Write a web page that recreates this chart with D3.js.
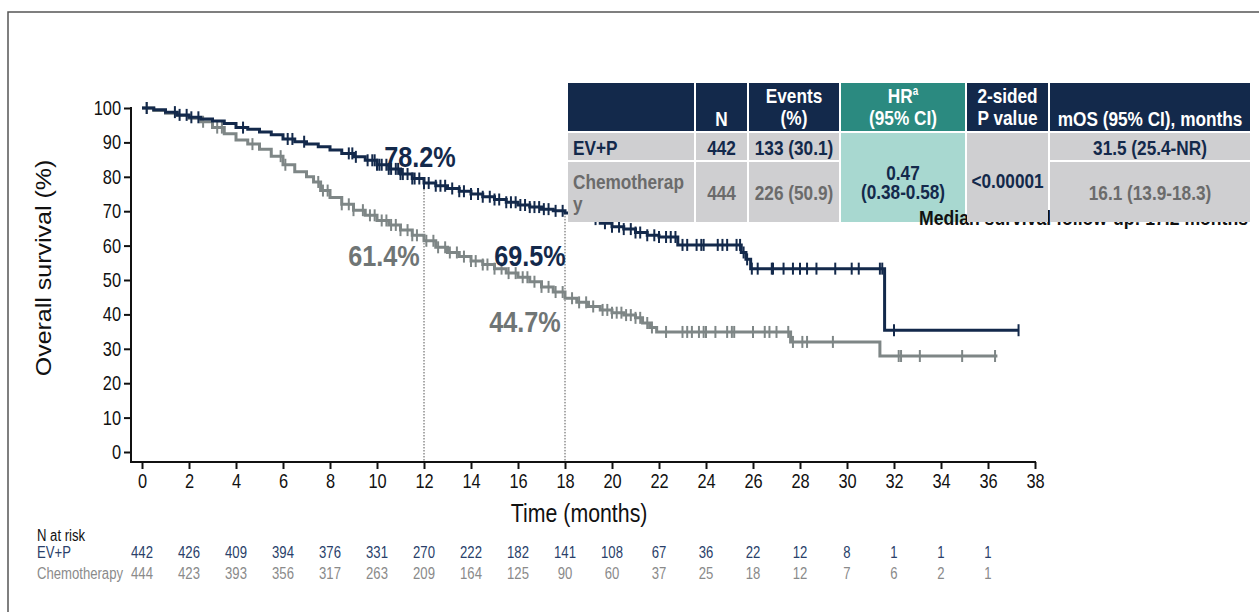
<!DOCTYPE html>
<html>
<head>
<meta charset="utf-8">
<script src="https://cdn.jsdelivr.net/npm/d3@7/dist/d3.min.js"></script>
<style>
body { margin: 0; background: #fff; }
svg { display: block; }
</style>
</head>
<body>
<svg id="chart"></svg>
<script>
/////////////////////////////////////////////////
/////////////////// Data ////////////////////////
/////////////////////////////////////////////////

var evpTime = [0, 0.5, 1, 1.5, 2, 2.5, 3, 3.5, 4, 4.5, 5, 5.5, 6, 6.5, 7, 7.5, 8, 8.5, 9, 9.5, 10, 10.5, 11, 11.5, 12, 12.5, 13, 13.5, 14, 14.5, 15, 15.5, 16, 16.5, 17, 17.5, 18, 18.5, 19, 19.5, 20, 20.5, 21, 21.5, 22, 22.8, 25.5, 25.7, 25.9, 31.6, 37.3];
var evpSurv = [100, 99.5, 98.8, 98, 97.3, 96.8, 96.2, 95.5, 94.3, 93.8, 93, 92.2, 91, 90.2, 89.5, 88.7, 87.8, 86.8, 85.8, 84.8, 83.5, 82.3, 80.8, 79.5, 78.2, 77.4, 76.6, 75.8, 75, 74.2, 73.4, 72.6, 71.8, 71.2, 70.6, 70.1, 69.5, 68.6, 67.7, 66.5, 65.5, 64.8, 63.8, 63, 62.5, 60.2, 58, 56, 53.3, 35.4, 35.4];

var chemoTime = [0, 0.5, 1, 1.5, 2, 2.5, 3, 3.5, 4, 4.5, 5, 5.5, 6, 6.5, 7, 7.3, 7.6, 8, 8.5, 9, 9.5, 10, 10.5, 11, 11.5, 12, 12.5, 13, 13.5, 14, 14.5, 15, 15.5, 16, 16.5, 17, 17.5, 18, 18.5, 19, 19.5, 20, 20.5, 21, 21.3, 21.6, 21.9, 27.6, 31.4, 36.4];
var chemoSurv = [100, 99.3, 98.5, 97.8, 97, 96, 94.3, 92.5, 90.7, 89.5, 88, 86, 83.5, 81.5, 80, 78.5, 76, 74, 72, 70.3, 68.8, 67.3, 66, 64.5, 63, 61.4, 59.5, 58, 56.8, 55.5, 54.5, 53.3, 52, 50.8, 49.5, 48, 46.5, 44.7, 43.5, 42.3, 41.3, 40.5, 39.8, 39, 37.5, 36.2, 34.9, 32, 27.9, 27.9];

var evpCensor = [0.2, 1.4, 1.6, 1.9, 2.1, 2.4, 4.3, 6.2, 6.4, 6.9, 8.8, 8.95, 9.1, 9.6, 9.8, 9.9, 10.0, 10.1, 10.2, 10.4, 10.5, 10.6, 10.8, 10.9, 11.0, 11.1, 11.3, 11.5, 11.6, 11.8, 12.0, 12.2, 12.5, 12.7, 12.9, 13.2, 13.5, 13.7, 14.0, 14.3, 14.5, 14.8, 15.0, 15.2, 15.5, 15.7, 15.9, 16.1, 16.3, 16.5, 16.7, 16.9, 17.1, 17.3, 17.6, 17.9, 18.6, 18.9, 19.3, 19.7, 20.0, 20.3, 20.5, 20.8, 21.0, 21.2, 21.5, 21.8, 22.0, 22.3, 22.5, 22.7, 23.0, 23.2, 23.6, 23.8, 23.9, 24.5, 24.7, 24.9, 25.3, 25.45, 25.6, 25.75, 25.95, 26.2, 26.8, 26.85, 27.3, 27.7, 28.0, 28.3, 28.7, 29.5, 30.2, 30.5, 31.4, 31.5, 32.0, 37.3];
var chemoCensor = [0.2, 2.6, 3.2, 3.4, 4.7, 5.9, 6.1, 7.5, 7.7, 7.9, 8.5, 8.8, 9.0, 9.4, 9.7, 9.9, 10.2, 10.4, 10.6, 10.8, 11.0, 11.3, 11.5, 11.7, 12.1, 12.4, 12.6, 12.9, 13.1, 13.4, 13.7, 14.0, 14.2, 14.5, 14.7, 15.0, 15.3, 15.6, 15.9, 16.2, 16.4, 16.7, 17.0, 17.3, 17.6, 17.9, 18.3, 18.6, 18.9, 19.2, 19.6, 19.8, 20.0, 20.2, 20.4, 20.6, 20.8, 21.0, 21.2, 21.5, 21.7, 22.3, 23.0, 23.2, 23.4, 23.7, 23.9, 24.0, 24.4, 24.9, 25.1, 25.2, 26.0, 26.5, 26.7, 27.0, 27.5, 27.7, 28.1, 28.3, 29.4, 32.2, 32.3, 33.1, 34.9, 36.3];

var xTicks = [0, 2, 4, 6, 8, 10, 12, 14, 16, 18, 20, 22, 24, 26, 28, 30, 32, 34, 36, 38];
var yTicks = [0, 10, 20, 30, 40, 50, 60, 70, 80, 90, 100];

var riskTimes = [0, 2, 4, 6, 8, 10, 12, 14, 16, 18, 20, 22, 24, 26, 28, 30, 32, 34, 36];
var evpRisk = [442, 426, 409, 394, 376, 331, 270, 222, 182, 141, 108, 67, 36, 22, 12, 8, 1, 1, 1];
var chemoRisk = [444, 423, 393, 356, 317, 263, 209, 164, 125, 90, 60, 37, 25, 18, 12, 7, 6, 2, 1];

var landmarkTimes = [12, 18];
var evpLandmark = ["78.2%", "69.5%"];
var chemoLandmark = ["61.4%", "44.7%"];

var armNames = ["EV+P", "Chemotherapy"];
var armN = ["442", "444"];
var armEvents = ["133 (30.1)", "226 (50.9)"];
var armMOS = ["31.5 (25.4-NR)", "16.1 (13.9-18.3)"];
var hrText = ["0.47", "(0.38-0.58)"];
var pText = "<0.00001";

/////////////////////////////////////////////////
/////////////////// Chart ///////////////////////
/////////////////////////////////////////////////

var W = 1259, H = 612;
var navy = "#13294b", grey = "#7e8686";
var SQ = 0.82; // horizontal squeeze, the source text is condensed

var svg = d3.select("#chart").attr("width", W).attr("height", H)
  .style("font-family", "'Liberation Sans', Arial, sans-serif");

// condensed text placed through a transform
function label(parent, px, py, s, size, color, anchor, weight, sx) {
  return parent.append("text")
    .attr("transform", "translate(" + px + "," + py + ") scale(" + (sx || SQ) + ",1)")
    .attr("text-anchor", anchor || "middle")
    .style("font-size", size + "px")
    .style("font-weight", weight || "normal")
    .attr("fill", color)
    .text(s);
}

// outer frame
svg.append("rect")
  .attr("x", 8).attr("y", 12).attr("width", 1300).attr("height", 700)
  .attr("fill", "none").attr("stroke", "#555").attr("stroke-width", 1.5);

var x = d3.scaleLinear().domain([0, 38]).range([142, 1035]);
var y = d3.scaleLinear().domain([0, 100]).range([452, 108]);
var axisY = 462, axisX = 131;

// axes
var yAxis = svg.append("g")
  .attr("transform", "translate(" + axisX + ",0)")
  .call(d3.axisLeft(y).tickValues(yTicks).tickSize(7).tickPadding(3));
yAxis.select(".domain").remove();
yAxis.selectAll(".tick text").attr("x", -10 / SQ).attr("transform", "scale(" + SQ + ",1)");
var xAxis = svg.append("g")
  .attr("transform", "translate(0," + axisY + ")")
  .call(d3.axisBottom(x).tickValues(xTicks).tickSize(7).tickPadding(5));
xAxis.select(".domain").remove();
xAxis.selectAll(".tick text").attr("transform", "scale(" + SQ + ",1)");
svg.selectAll(".tick line").attr("stroke", "#111").attr("stroke-width", 2);
svg.selectAll(".tick text").attr("fill", "#111")
  .style("font-family", "'Liberation Sans', Arial, sans-serif").style("font-size", "20px");

svg.append("line").attr("x1", axisX).attr("x2", axisX)
  .attr("y1", y(100) - 1).attr("y2", axisY + 1)
  .attr("stroke", "#111").attr("stroke-width", 2);
svg.append("line").attr("x1", axisX - 1).attr("x2", x(38) + 1)
  .attr("y1", axisY).attr("y2", axisY)
  .attr("stroke", "#111").attr("stroke-width", 2);

svg.append("text")
  .attr("transform", "translate(51," + (y(50) - 12) + ") rotate(-90) scale(1,0.85)")
  .attr("text-anchor", "middle")
  .style("font-size", "25px").attr("fill", "#111")
  .text("Overall survival (%)");

label(svg, x(18.6), 522, "Time (months)", 26, "#111");

// helpers
function survAt(times, surv, t) {
  var i = d3.bisectRight(times, t) - 1;
  return surv[Math.max(0, i)];
}
var line = d3.line().curve(d3.curveStepAfter)
  .x(function (d) { return x(d[0]); })
  .y(function (d) { return y(d[1]); });

// landmark dotted lines
svg.selectAll(".landmark").data(landmarkTimes).enter().append("line")
  .attr("x1", function (d) { return x(d); })
  .attr("x2", function (d) { return x(d); })
  .attr("y1", function (d) { return y(survAt(evpTime, evpSurv, d)); })
  .attr("y2", axisY)
  .attr("stroke", "#555").attr("stroke-width", 1)
  .attr("stroke-dasharray", "1.5,1.5");

function drawArm(times, surv, censor, color) {
  svg.append("path")
    .datum(times.map(function (t, i) { return [t, surv[i]]; }))
    .attr("d", line)
    .attr("fill", "none").attr("stroke", color).attr("stroke-width", 3);
  svg.append("g").selectAll("line").data(censor).enter().append("line")
    .attr("x1", function (d) { return x(d); })
    .attr("x2", function (d) { return x(d); })
    .attr("y1", function (d) { return y(survAt(times, surv, d)) - 6; })
    .attr("y2", function (d) { return y(survAt(times, surv, d)) + 6; })
    .attr("stroke", color).attr("stroke-width", 2);
}
drawArm(chemoTime, chemoSurv, chemoCensor, grey);
drawArm(evpTime, evpSurv, evpCensor, navy);

// landmark labels
var evpOffsets = [[-4, -16], [-35, 53]];
var chemoOffsets = [[-40, 25], [-40, 34]];
landmarkTimes.forEach(function (t, i) {
  label(svg, x(t) + evpOffsets[i][0], y(survAt(evpTime, evpSurv, t)) + evpOffsets[i][1],
    evpLandmark[i], 29, navy, "middle", "bold", 0.87);
  label(svg, x(t) + chemoOffsets[i][0], y(survAt(chemoTime, chemoSurv, t)) + chemoOffsets[i][1],
    chemoLandmark[i], 29, "#6f7575", "middle", "bold", 0.87);
});

/////////////////////////////////////////////////
/////////////////// Table ///////////////////////
/////////////////////////////////////////////////

var cols = [568, 696, 749, 841, 967, 1050, 1252];
var rowTop = [83, 133, 162], rowBot = [131, 160, 222];
var cellGrey = "#cfcfd1", teal = "#2b8a80", tealLight = "#a8d8d0";
var tbl = svg.append("g");

function cell(c0, c1, r0, r1, fill) {
  tbl.append("rect").attr("x", cols[c0]).attr("y", rowTop[r0])
    .attr("width", cols[c1] - cols[c0] - 2).attr("height", rowBot[r1] - rowTop[r0])
    .attr("fill", fill);
}
function txt(cx, cy, s, color, anchor) {
  return label(tbl, cx, cy, s, 21, color, anchor, "bold");
}
function mid(c) { return (cols[c] + cols[c + 1] - 2) / 2; }

// header row
for (var c = 0; c < 6; c++) cell(c, c + 1, 0, 0, c === 3 ? teal : navy);
// HR cell spans both rows, drawn before the follow-up note
cell(3, 4, 1, 2, tealLight);
label(tbl, 919, 225, "Median survival follow-up: 17.2 months", 21, "#111", "start", "bold", 0.84);
// remaining body cells sit above the note
[0, 1, 2, 5].forEach(function (c) { cell(c, c + 1, 1, 1, cellGrey); cell(c, c + 1, 2, 2, cellGrey); });
cell(4, 5, 1, 2, cellGrey);

txt(mid(1), 126, "N", "#fff");
txt(mid(2), 103, "Events", "#fff"); txt(mid(2), 125, "(%)", "#fff");
txt(mid(3), 103, "HR", "#fff").append("tspan").attr("dy", -8).style("font-size", "12px").text("a");
txt(mid(3), 125, "(95% CI)", "#fff");
txt(mid(4), 103, "2-sided", "#fff"); txt(mid(4), 125, "P value", "#fff");
txt(mid(5), 126, "mOS (95% CI), months", "#fff");

var rowColor = [navy, "#6b6b6b"];
txt(573, 155, armNames[0], rowColor[0], "start");
txt(573, 189, armNames[1].slice(0, 11), rowColor[1], "start");
txt(573, 211, armNames[1].slice(11), rowColor[1], "start");
var rowBase = [155, 200];
[0, 1].forEach(function (r) {
  txt(mid(1), rowBase[r], armN[r], rowColor[r]);
  txt(mid(2), rowBase[r], armEvents[r], rowColor[r]);
  txt(mid(5), rowBase[r], armMOS[r], rowColor[r]);
});
txt(mid(3), 180, hrText[0], navy);
txt(mid(3), 199, hrText[1], navy);
txt(mid(4), 188, pText, navy);

/////////////////////////////////////////////////
/////////////////// At risk /////////////////////
/////////////////////////////////////////////////

var risk = svg.append("g");
label(risk, 37, 541, "N at risk", 16, "#111", "start");
label(risk, 37, 558, armNames[0], 16, "#2a3f6a", "start");
label(risk, 37, 579, armNames[1], 16, "#8a8a8a", "start");
evpRisk.forEach(function (d, i) { label(risk, x(riskTimes[i]), 558, d, 16, "#2a3f6a"); });
chemoRisk.forEach(function (d, i) { label(risk, x(riskTimes[i]), 579, d, 16, "#8a8a8a"); });
</script>
</body>
</html>
